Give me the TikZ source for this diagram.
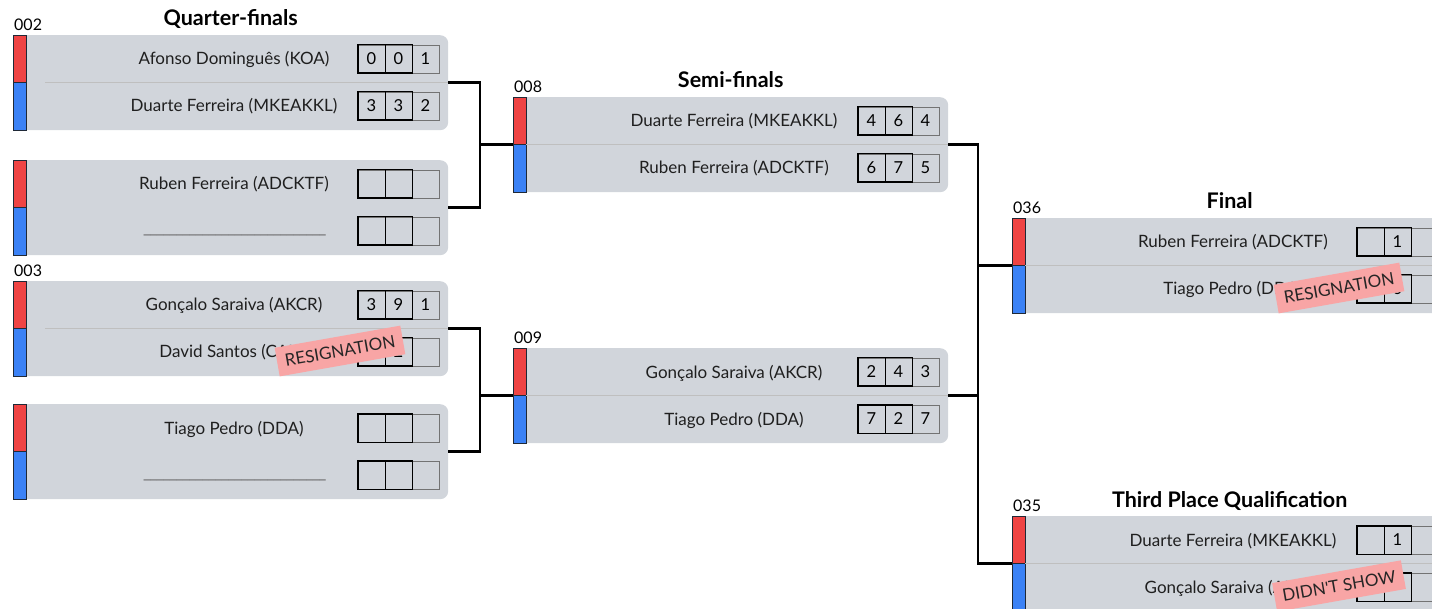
\documentclass[tikz,border=0pt]{standalone}
\usepackage{fontspec}
\setmainfont{Lato}[Ligatures=TeXOff]
\usetikzlibrary{positioning,calc}
\definecolor{boxgray}{HTML}{D1D5DB}
\definecolor{barred}{HTML}{EF4444}
\definecolor{barblue}{HTML}{3B82F6}
\definecolor{stampred}{HTML}{F8A5A5}
\definecolor{inkgray}{HTML}{1F2937}
\newcommand\blankname{\raisebox{3pt}{\textcolor{black!60}{\hbox to 182pt{\xleaders\hbox{\_\kern-1.5pt}\hfill}}}}

\begin{document}
\begin{tikzpicture}
  [x=1pt,y=-1pt,
   match/.style={rectangle,rounded corners=8pt,fill=boxgray,inner sep=0pt,
                 minimum width=435pt,minimum height=95pt,anchor=north west},
   redbar/.style={rectangle,draw=inkgray,fill=barred,line width=0.8pt,inner sep=0pt,
                  minimum width=13pt,minimum height=47.5pt,anchor=north west},
   bluebar/.style={redbar,fill=barblue,anchor=south west},
   player/.style={anchor=base,inner sep=0pt,text=black!88,font=\fontsize{17}{20}\selectfont},
   score/.style={rectangle,draw=black!55,line width=0.8pt,inner sep=0pt,
                 minimum width=27pt,minimum height=28pt,font=\fontsize{16.5}{18}\selectfont},
   frame/.style={draw=black,line width=1.8pt},
   stage/.style={anchor=base,inner sep=0pt,font=\bfseries\fontsize{21.5}{24}\selectfont},
   number/.style={anchor=base west,inner sep=0pt,font=\fontsize{16}{18}\selectfont},
   sepline/.style={draw=black!25,line width=0.8pt},
   link/.style={draw=black,line width=2.5pt},
   stamp/.style={rectangle,fill=stampred,rotate=10,inner xsep=8pt,minimum height=29pt,
                 text=black!85,font=\fontsize{17}{20}\selectfont}]
  \useasboundingbox (0,0) rectangle (1432,609);
  \clip (0,0) rectangle (1432,609);

  \foreach \m/\x/\y/\na/\nb/\sa/\sb in {
      q1/13/35/{Afonso Dominguês (KOA)}/{Duarte Ferreira (MKEAKKL)}/{0,0,1}/{3,3,2},
      q2/13/160/{Ruben Ferreira (ADCKTF)}/{\blankname}/{{},{},{}}/{{},{},{}},
      q3/13/281/{Gonçalo Saraiva (AKCR)}/{David Santos (CAM)}/{3,9,1}/{{},2,{}},
      q4/13/404/{Tiago Pedro (DDA)}/{\blankname}/{{},{},{}}/{{},{},{}},
      s1/513/97/{Duarte Ferreira (MKEAKKL)}/{Ruben Ferreira (ADCKTF)}/{4,6,4}/{6,7,5},
      s2/513/348/{Gonçalo Saraiva (AKCR)}/{Tiago Pedro (DDA)}/{2,4,3}/{7,2,7},
      f/1012/218/{Ruben Ferreira (ADCKTF)}/{Tiago Pedro (DDA)}/{{},1,{}}/{{},0,{}},
      t/1012/516/{Duarte Ferreira (MKEAKKL)}/{Gonçalo Saraiva (AKCR)}/{{},1,{}}/{{},{},{}}}
  {
    \node[match] (\m) at (\x,\y) {};
    \node[redbar] (\m-red) at (\m.north west) {};
    \node[bluebar] (\m-blue) at (\m.south west) {};
    \node[player] (\m-a) at ($(\m.north west)+(221,30)$) {\na};
    \node[player] (\m-b) at ($(\m.north west)+(221,77)$) {\nb};
    \foreach \s [count=\k] in \sa
      \node[score] (\m-a\k) at ($(\m.north west)+(331.5+27*\k,24)$) {\s};
    \foreach \s [count=\k] in \sb
      \node[score] (\m-b\k) at ($(\m.north west)+(331.5+27*\k,71)$) {\s};
    \draw[frame] (\m-a1.north west) rectangle (\m-a2.south east)
                 (\m-a1.north east) -- (\m-a1.south east);
    \draw[frame] (\m-b1.north west) rectangle (\m-b2.south east)
                 (\m-b1.north east) -- (\m-b1.south east);
  }

  \foreach \m/\o in {q1/32,q3/32,s1/13,s2/13,f/13,t/13}
    \draw[sepline] ($(\m.west)+(\o,0)$) -- (\m.east);

  \foreach \m/\n in {q1/002,q3/003,s1/008,s2/009,f/036,t/035}
    \node[number] (\m-num) at ($(\m.north west)+(1,-4.5)$) {\n};

  \foreach \m/\n in {q1/Quarter-finals,s1/Semi-finals,f/Final,t/Third Place Qualification}
    \node[stage] (\m-stage) at ($(\m.north)+(0,-9)$) {\n};

  \coordinate (j1) at ($(s1.west)+(-33,0)$);
  \coordinate (j2) at ($(s2.west)+(-33,0)$);
  \coordinate (j3) at ($(f.west)+(-34,0)$);
  \draw[link] (q1.east) -| (j1) |- (q2.east);
  \draw[link] (j1) -- (s1.west);
  \draw[link] (q3.east) -| (j2) |- (q4.east);
  \draw[link] (j2) -- (s2.west);
  \draw[link] (s1.east) -| (j3) -- (f.west);
  \draw[link] (s2.east) -| (j3) |- (t.west);

  \foreach \m/\t in {q3/RESIGNATION,f/RESIGNATION,t/DIDN'T SHOW}
    \node[stamp] (\m-stamp) at ($(\m.north west)+(327,70)$) {\t};
\end{tikzpicture}
\end{document}
